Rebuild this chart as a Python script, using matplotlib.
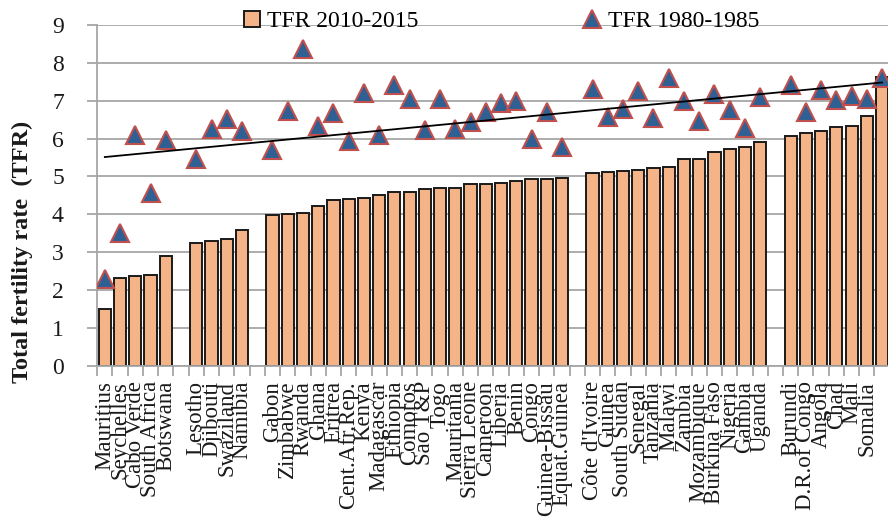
import numpy as np
import matplotlib
matplotlib.use('Agg')
import matplotlib.pyplot as plt

plt.rcParams['font.family'] = ['Liberation Serif', 'DejaVu Serif']

# countries, grouped (a blank slot is left between groups)
countries = ["Mauritius", "Seychelles", "Cabo Verde", "South Africa", "Botswana",
             "Lesotho", "Djibouti", "Swaziland", "Namibia",
             "Gabon", "Zimbabwe", "Rwanda", "Ghana", "Eritrea", "Cent.Afr.Rep.", "Kenya",
             "Madagascar", "Ethiopia", "Comoros", "Sao T&P", "Togo", "Mauritania",
             "Sierra Leone", "Cameroon", "Liberia", "Benin", "Congo", "Guinea-Bissau",
             "Equat.Guinea",
             "Côte d'Ivoire", "Guinea", "South Sudan", "Senegal", "Tanzania", "Malawi",
             "Zambia", "Mozambique", "Burkina Faso", "Nigeria", "Gambia", "Uganda",
             "Burundi", "D.R.of Congo", "Angola", "Chad", "Mali", "Somalia", "Niger"]
group_sizes = [5, 4, 20, 12, 7]

tfr_2010_2015 = [1.49, 2.32, 2.36, 2.39, 2.89,
                 3.25, 3.30, 3.35, 3.59,
                 3.98, 4.00, 4.04, 4.23, 4.38, 4.40, 4.42, 4.50, 4.58, 4.59,
                 4.66, 4.69, 4.69, 4.79, 4.81, 4.83, 4.88, 4.94, 4.94, 4.95,
                 5.09, 5.13, 5.15, 5.18, 5.23, 5.24, 5.45, 5.45, 5.64, 5.73, 5.77, 5.90,
                 6.07, 6.15, 6.19, 6.31, 6.34, 6.60, 7.63]
tfr_1980_1985 = [2.30, 3.50, 6.09, 4.55, 5.96,
                 5.45, 6.25, 6.53, 6.19,
                 5.70, 6.72, 8.36, 6.33, 6.68, 5.93, 7.20, 6.09, 7.41, 7.04,
                 6.23, 7.04, 6.26, 6.45, 6.69, 6.94, 6.98, 5.98, 6.69, 5.77,
                 7.30, 6.57, 6.78, 7.26, 6.54, 7.60, 6.99, 6.46, 7.17, 6.76, 6.29, 7.09,
                 7.42, 6.70, 7.28, 7.02, 7.12, 7.05, 7.59]

# slot positions with one empty slot between groups
pos = []
start = 0
for n in group_sizes:
    pos.extend(range(start, start + n))
    start += n + 1
pos = np.array(pos)
last = pos[-1]

fig = plt.figure(figsize=(8.88, 5.22), dpi=100)
ax = fig.add_axes([97.2 / 888, 1 - 365.7 / 522, 792.5 / 888, 340.7 / 522])

grid_c = '#a6a6a6'
bars = ax.bar(pos, tfr_2010_2015, width=0.8, color='#f4b488', edgecolor='#1a1a1a',
              linewidth=1.4, zorder=2, label='TFR 2010-2015')
tri, = ax.plot(pos, tfr_1980_1985, linestyle='none', marker='^', markersize=13,
               markerfacecolor='#2e6094', markeredgecolor='#c0504d', markeredgewidth=1.5,
               zorder=3, label='TFR 1980-1985')

# linear trend of the 1980-1985 values
k, b = np.polyfit(pos, tfr_1980_1985, 1)
xs = np.array([pos[0], pos[-1]])
ax.plot(xs, k * xs + b, color='black', linewidth=1.3, zorder=4)

ax.set_xlim(-0.5, last + 0.5)
ax.set_ylim(0, 9)
ax.set_yticks(range(10))
ax.yaxis.grid(True, color=grid_c, linewidth=1.3, zorder=0)
ax.set_axisbelow(True)

# the last label (Niger) falls outside the picture
ax.set_xticks(pos[:-1])
ax.set_xticklabels(countries[:-1], rotation=90, fontsize=16.5, color='#1a1a1a')
ax.set_xticks(np.arange(-0.5, last + 1), minor=True)
ax.tick_params(axis='x', which='major', length=0, pad=11)
ax.tick_params(axis='x', which='minor', length=7, width=1.3, color=grid_c)
ax.tick_params(axis='y', length=7, width=1.3, color=grid_c, pad=17,
               labelsize=17, labelcolor='#1a1a1a')

for s in ['top', 'right']:
    ax.spines[s].set_visible(False)
for s in ['left', 'bottom']:
    ax.spines[s].set_color(grid_c)
    ax.spines[s].set_linewidth(1.3)

fig.text(22 / 888, 1 - 252 / 522, 'Total fertility rate  (TFR)', rotation=90,
         ha='center', va='center', fontsize=17.5, fontweight='bold', color='#1a1a1a')

ax.legend([bars, tri], ['TFR 2010-2015', 'TFR 1980-1985'],
          loc='center', bbox_to_anchor=(0.51, 1.01), ncol=2, frameon=False,
          fontsize=17, handlelength=0.7, handleheight=0.7, handletextpad=0.3,
          columnspacing=7.0, borderaxespad=0)

fig.savefig('out.png', dpi=100)
